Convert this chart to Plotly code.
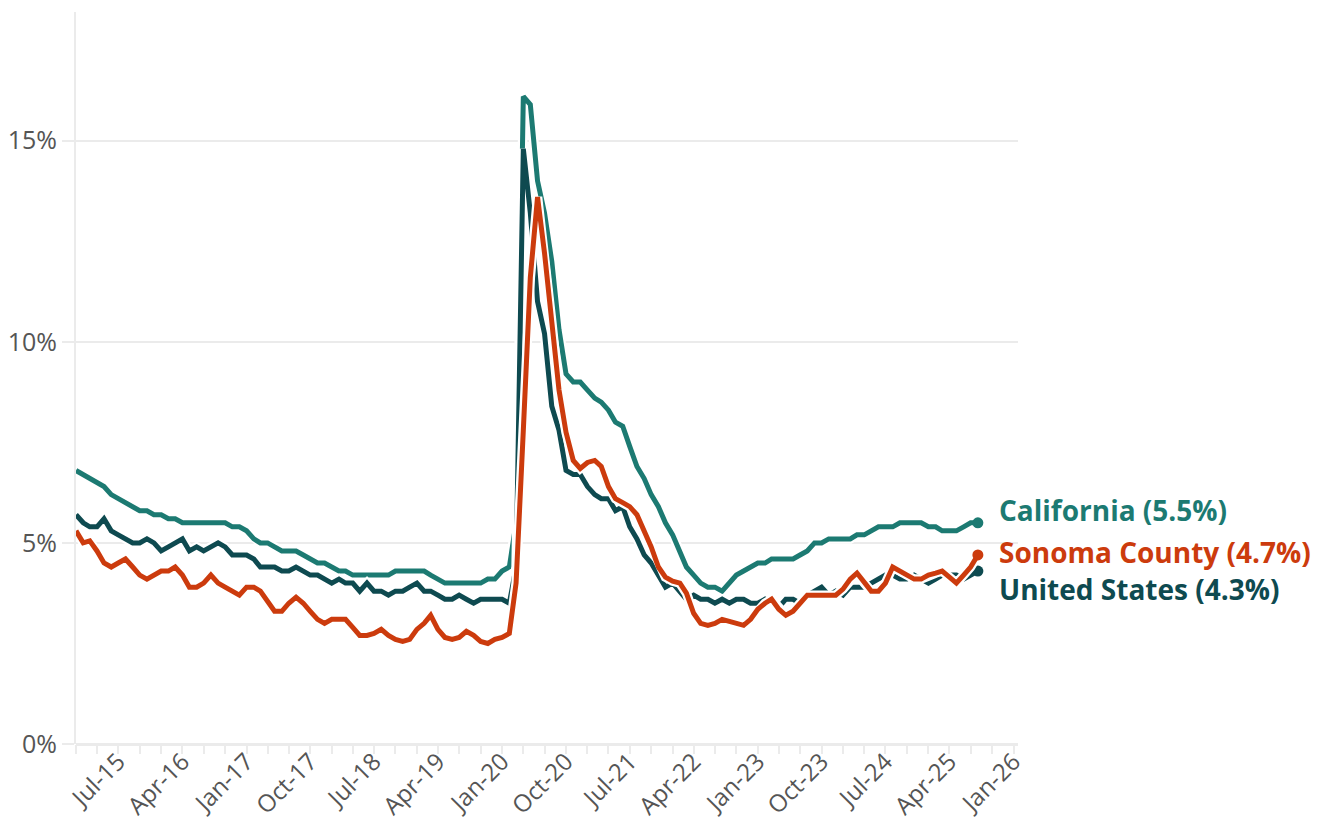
import pandas as pd
import plotly.graph_objects as go

# ---------------- data ----------------
months = pd.date_range("2015-01-01", "2025-08-01", freq="MS")

united_states = [
    5.7, 5.5, 5.4, 5.4, 5.6, 5.3, 5.2, 5.1, 5.0, 5.0, 5.1, 5.0,
    4.8, 4.9, 5.0, 5.1, 4.8, 4.9, 4.8, 4.9, 5.0, 4.9, 4.7, 4.7,
    4.7, 4.6, 4.4, 4.4, 4.4, 4.3, 4.3, 4.4, 4.3, 4.2, 4.2, 4.1,
    4.0, 4.1, 4.0, 4.0, 3.8, 4.0, 3.8, 3.8, 3.7, 3.8, 3.8, 3.9,
    4.0, 3.8, 3.8, 3.7, 3.6, 3.6, 3.7, 3.6, 3.5, 3.6, 3.6, 3.6,
    3.6, 3.5, 4.4, 14.8, 13.2, 11.0, 10.2, 8.4, 7.8, 6.8, 6.7, 6.7,
    6.4, 6.2, 6.1, 6.1, 5.8, 5.9, 5.4, 5.1, 4.7, 4.5, 4.2, 3.9,
    4.0, 3.8, 3.6, 3.7, 3.6, 3.6, 3.5, 3.6, 3.5, 3.6, 3.6, 3.5,
    3.5, 3.6, 3.5, 3.4, 3.6, 3.6, 3.5, 3.7, 3.8, 3.9, 3.7, 3.8,
    3.7, 3.9, 3.9, 3.9, 4.0, 4.1, 4.2, 4.2, 4.1, 4.1, 4.2, 4.1,
    4.0, 4.1, 4.2, 4.2, 4.2, 4.1, 4.2, 4.3,
]

california = [
    6.8, 6.7, 6.6, 6.5, 6.4, 6.2, 6.1, 6.0, 5.9, 5.8, 5.8, 5.7,
    5.7, 5.6, 5.6, 5.5, 5.5, 5.5, 5.5, 5.5, 5.5, 5.5, 5.4, 5.4,
    5.3, 5.1, 5.0, 5.0, 4.9, 4.8, 4.8, 4.8, 4.7, 4.6, 4.5, 4.5,
    4.4, 4.3, 4.3, 4.2, 4.2, 4.2, 4.2, 4.2, 4.2, 4.3, 4.3, 4.3,
    4.3, 4.3, 4.2, 4.1, 4.0, 4.0, 4.0, 4.0, 4.0, 4.0, 4.1, 4.1,
    4.3, 4.4, 5.5, 16.1, 15.9, 14.0, 13.2, 12.0, 10.3, 9.2, 9.0, 9.0,
    8.8, 8.6, 8.5, 8.3, 8.0, 7.9, 7.4, 6.9, 6.6, 6.2, 5.9, 5.5,
    5.2, 4.8, 4.4, 4.2, 4.0, 3.9, 3.9, 3.8, 4.0, 4.2, 4.3, 4.4,
    4.5, 4.5, 4.6, 4.6, 4.6, 4.6, 4.7, 4.8, 5.0, 5.0, 5.1, 5.1,
    5.1, 5.1, 5.2, 5.2, 5.3, 5.4, 5.4, 5.4, 5.5, 5.5, 5.5, 5.5,
    5.4, 5.4, 5.3, 5.3, 5.3, 5.4, 5.5, 5.5,
]

sonoma = [
    5.3, 5.0, 5.05, 4.8, 4.5, 4.4, 4.5, 4.6, 4.4, 4.2, 4.1, 4.2,
    4.3, 4.3, 4.4, 4.2, 3.9, 3.9, 4.0, 4.2, 4.0, 3.9, 3.8, 3.7,
    3.9, 3.9, 3.8, 3.55, 3.3, 3.3, 3.5, 3.65, 3.5, 3.3, 3.1, 3.0,
    3.1, 3.1, 3.1, 2.9, 2.7, 2.7, 2.75, 2.85, 2.7, 2.6, 2.55, 2.6,
    2.85, 3.0, 3.2, 2.85, 2.65, 2.6, 2.65, 2.8, 2.7, 2.55, 2.5, 2.6,
    2.65, 2.75, 4.0, 7.8, 11.6, 13.6, 12.2, 10.5, 8.8, 7.75, 7.05, 6.85,
    7.0, 7.05, 6.9, 6.4, 6.1, 6.0, 5.9, 5.7, 5.3, 4.9, 4.4, 4.15,
    4.05, 4.0, 3.75, 3.25, 3.0, 2.95, 3.0, 3.1, 3.05, 3.0, 2.95, 3.1,
    3.35, 3.5, 3.6, 3.35, 3.2, 3.3, 3.5, 3.7, 3.7, 3.7, 3.7, 3.7,
    3.85, 4.1, 4.25, 4.0, 3.8, 3.8, 4.0, 4.4, 4.3, 4.2, 4.1, 4.1,
    4.2, 4.25, 4.3, 4.15, 4.0, 4.2, 4.4, 4.7,
]

x_tick_dates = [
    "2015-07-01", "2016-04-01", "2017-01-01", "2017-10-01", "2018-07-01",
    "2019-04-01", "2020-01-01", "2020-10-01", "2021-07-01", "2022-04-01",
    "2023-01-01", "2023-10-01", "2024-07-01", "2025-04-01", "2026-01-01",
]
x_tick_labels = [
    "Jul-15", "Apr-16", "Jan-17", "Oct-17", "Jul-18", "Apr-19", "Jan-20",
    "Oct-20", "Jul-21", "Apr-22", "Jan-23", "Oct-23", "Jul-24", "Apr-25", "Jan-26",
]
y_tick_values = [0, 5, 10, 15]
y_tick_labels = ["0%", "5%", "10%", "15%"]

# ---------------- style ----------------
FONT = "Open Sans"
C_CA = "#1c7a72"
C_SON = "#cc3b0d"
C_US = "#0e4a50"
GRID = "#ebebeb"

series = [
    ("California", california, C_CA, 5.81),
    ("United States", united_states, C_US, 3.86),
    ("Sonoma County", sonoma, C_SON, 4.77),
]

fig = go.Figure()
for name, vals, color, _ in series:
    # white casing below the coloured line
    fig.add_trace(go.Scatter(
        x=months, y=vals, mode="lines",
        line=dict(color="white", width=9.5, shape="linear"),
        hoverinfo="skip", showlegend=False,
    ))
    fig.add_trace(go.Scatter(
        x=months, y=vals, mode="lines", name=name,
        line=dict(color=color, width=5, shape="linear"),
        showlegend=False,
    ))
    fig.add_trace(go.Scatter(
        x=[months[-1]], y=[vals[-1]], mode="markers",
        marker=dict(color=color, size=11),
        hoverinfo="skip", showlegend=False,
    ))

for name, vals, color, label_y in series:
    fig.add_annotation(
        x=0.9777, xref="paper", xanchor="left",
        y=label_y, yref="y", yanchor="middle",
        text=f"<b>{name} ({vals[-1]:.1f}%)</b>",
        showarrow=False,
        font=dict(family=FONT, size=28, color=color),
    )

# the page body adds an 8px offset, so the figure is sized to fit the window
fig.update_layout(
    width=1322, height=814, autosize=False,
    margin=dict(l=68, r=312, t=4, b=78),
    plot_bgcolor="white", paper_bgcolor="white",
    font=dict(family=FONT, size=24, color="#555555"),
    showlegend=False,
)

fig.update_xaxes(
    type="date", automargin=False,
    range=["2015-01-01", "2026-01-20"],
    tickmode="array", tickvals=x_tick_dates, ticktext=x_tick_labels,
    tickangle=-45,
    ticks="outside", ticklen=9, tickwidth=2, tickcolor=GRID,
    ticklabelstandoff=-16,
    minor=dict(dtick="M3", tick0="2015-01-01", ticks="outside",
               ticklen=9, tickwidth=2, tickcolor=GRID, showgrid=False),
    showgrid=False, showline=False, zeroline=False,
    tickfont=dict(family=FONT, size=24, color="#555555"),
)

fig.update_yaxes(
    automargin=False,
    range=[0, 18.2],
    tickmode="array", tickvals=y_tick_values, ticktext=y_tick_labels,
    ticks="outside", ticklen=12, tickwidth=2, tickcolor=GRID,
    showgrid=True, gridcolor=GRID, gridwidth=2,
    zeroline=True, zerolinecolor=GRID, zerolinewidth=3,
    showline=True, linecolor=GRID, linewidth=2,
    tickfont=dict(family=FONT, size=25, color="#555555"),
)

fig.write_html("out.html", config={"displayModeBar": False})
